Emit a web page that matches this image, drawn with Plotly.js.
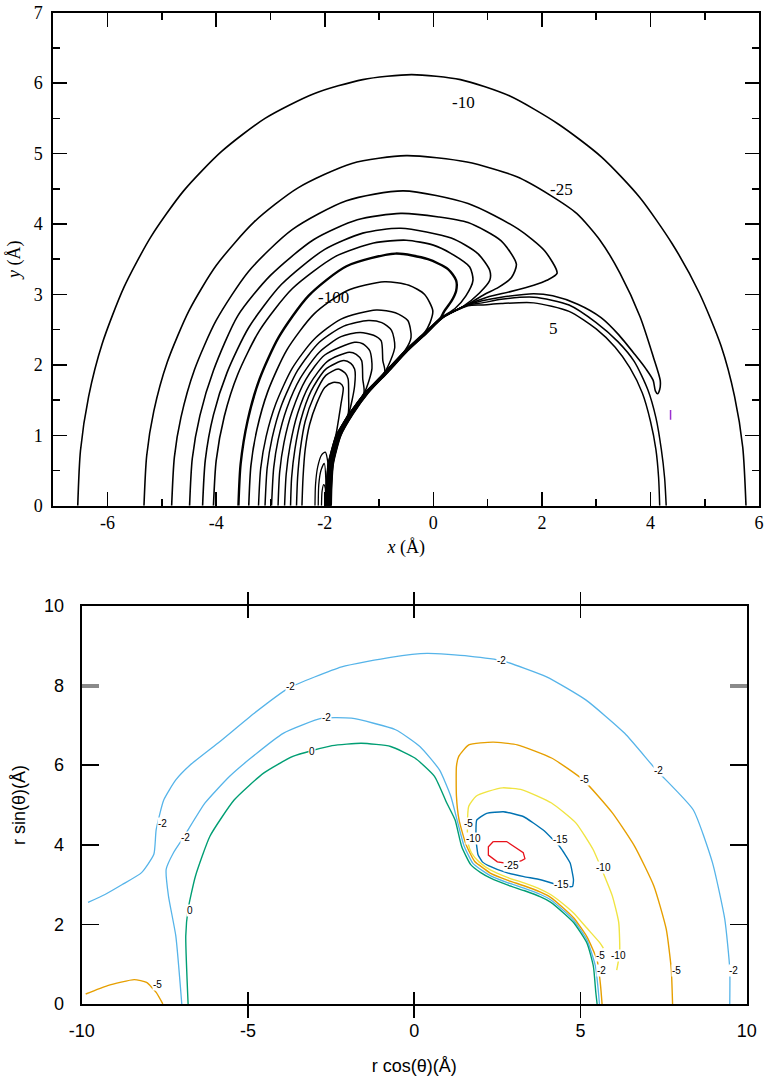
<!DOCTYPE html>
<html>
<head>
<meta charset="utf-8">
<script src="https://cdn.plot.ly/plotly-3.0.1.min.js"></script>
<style>html,body{margin:0;padding:0;background:#fff;}#chart{width:765px;height:1085px;}</style>
</head>
<body>
<div id="chart"></div>
<script>
// ---------------- TOP PANEL: contour lines (x, y in Å) ----------------
const topL1_x = [-6.55,-6.5,-6.35,-6.1,-5.7,-5.2,-4.6,-3.9,-3.1,-2.2,-1.3,-0.4,0.5,1.4,2.3,3.1,3.8,4.4,4.9,5.3,5.55,5.7,5.76];
const topL1_y = [0,0.78,1.55,2.3,3.1,3.82,4.47,5.03,5.5,5.85,6.05,6.12,6.05,5.82,5.42,4.95,4.38,3.72,3.02,2.27,1.55,0.83,0];

const topL2_x = [-5.33,-5.28,-5.15,-4.9,-4.5,-4.0,-3.3,-2.5,-1.5,-0.5,0.62,1.54,2.15,2.64,3.07,3.44,3.81,4.05,4.18,4.17,4.13,4.09,4.05,3.92,3.71,3.4,3.09,2.66,2.2,1.85,1.25,0.9,0.628,0.168,-0.132,-0.482,-0.842,-1.212,-1.492,-1.712,-1.852,-1.882,-1.892];
const topL2_y = [0,0.71,1.34,2.04,2.77,3.41,4.03,4.51,4.86,4.97,4.88,4.67,4.41,4.15,3.77,3.3,2.68,2.12,1.78,1.65,1.59,1.63,1.78,1.94,2.15,2.44,2.67,2.86,2.98,3.01,2.96,2.91,2.85,2.67,2.45,2.2,1.9,1.6,1.3,1.0,0.6,0.3,0];

const top5a_x = [-1.886,-1.876,-1.846,-1.706,-1.486,-1.206,-0.836,-0.476,-0.126,0.174,0.634,0.9,1.25,1.85,2.5,3.0,3.4,3.7,3.95,4.1,4.2,4.26,4.29];
const top5a_y = [0,0.3,0.6,1.0,1.3,1.6,1.9,2.2,2.45,2.67,2.85,2.88,2.93,2.96,2.85,2.6,2.33,2.05,1.65,1.25,0.8,0.4,0];
const top5b_x = [-1.88,-1.87,-1.84,-1.70,-1.48,-1.20,-0.83,-0.47,-0.12,0.18,0.64,0.9,1.25,1.85,2.5,3.0,3.35,3.62,3.85,4.0,4.1,4.15,4.17];
const top5b_y = [0,0.3,0.6,1.0,1.3,1.6,1.9,2.2,2.45,2.67,2.84,2.85,2.87,2.88,2.76,2.51,2.25,1.96,1.6,1.2,0.8,0.4,0];

const topL3_x = [-4.82,-4.77,-4.65,-4.4,-4.0,-3.4,-2.6,-1.6,-0.55,0.64,1.56,2.05,2.28,2.09,1.85,1.42,0.99,0.622,0.162,-0.138,-0.488,-0.848,-1.218,-1.498,-1.718,-1.858,-1.888,-1.898];
const topL3_y = [0,0.69,1.25,1.93,2.63,3.33,3.92,4.33,4.47,4.29,3.93,3.62,3.3,3.2,3.13,3.04,2.96,2.85,2.67,2.45,2.2,1.9,1.6,1.3,1.0,0.6,0.3,0];

const topL4_x = [-4.49,-4.44,-4.3,-4.05,-3.6,-3.0,-2.2,-1.4,-0.6,0.1,0.64,1.25,1.53,1.44,1.2,0.94,0.616,0.156,-0.144,-0.494,-0.854,-1.224,-1.504,-1.724,-1.864,-1.894,-1.904];
const topL4_y = [0,0.67,1.28,1.92,2.7,3.27,3.78,4.06,4.15,4.1,4.02,3.76,3.43,3.24,3.1,3.0,2.85,2.67,2.45,2.2,1.9,1.6,1.3,1.0,0.6,0.3,0];

const topL5_x = [-4.25,-4.2,-4.05,-3.8,-3.4,-2.8,-2.0,-1.3,-0.6,0.33,0.82,1.04,1.04,0.85,0.55,0.15,-0.15,-0.5,-0.86,-1.23,-1.51,-1.73,-1.87,-1.9,-1.91];
const topL5_y = [0,0.65,1.29,1.89,2.53,3.14,3.64,3.87,3.94,3.8,3.58,3.34,3.2,3.02,2.83,2.67,2.45,2.2,1.9,1.6,1.3,1.0,0.6,0.3,0];

const topL6_x = [-4.05,-4.0,-3.85,-3.6,-3.2,-2.6,-1.8,-1.1,-0.5,0.0,0.33,0.67,0.73,0.6,0.4,0.144,-0.156,-0.506,-0.866,-1.236,-1.516,-1.736,-1.876,-1.906,-1.916];
const topL6_y = [0,0.64,1.27,1.87,2.49,3.08,3.54,3.73,3.77,3.7,3.58,3.39,3.2,2.98,2.8,2.67,2.45,2.2,1.9,1.6,1.3,1.0,0.6,0.3,0];

const topL7_x = [-3.59,-3.55,-3.42,-3.2,-2.85,-2.3,-1.6,-0.7,-0.1,0.27,0.42,0.42,0.33,0.2,0.138,-0.162,-0.512,-0.872,-1.242,-1.522,-1.742,-1.882,-1.912,-1.922];
const topL7_y = [0,0.59,1.21,1.8,2.39,2.98,3.4,3.58,3.5,3.36,3.2,3.05,2.9,2.76,2.67,2.45,2.2,1.9,1.6,1.3,1.0,0.6,0.3,0];

const topL8_x = [-3.4,-3.36,-3.25,-3.05,-2.7,-2.2,-1.6,-0.9,-0.45,-0.16,-0.01,-0.06,-0.168,-0.518,-0.878,-1.248,-1.528,-1.748,-1.888,-1.918,-1.928];
const topL8_y = [0,0.57,1.08,1.62,2.21,2.72,3.05,3.18,3.13,3.0,2.77,2.6,2.45,2.2,1.9,1.6,1.3,1.0,0.6,0.3,0];

const topL9_x = [-3.22,-3.18,-3.08,-2.9,-2.6,-2.2,-1.7,-1.05,-0.7,-0.47,-0.41,-0.524,-0.884,-1.254,-1.534,-1.754,-1.894,-1.924,-1.934];
const topL9_y = [0,0.53,0.98,1.45,1.95,2.36,2.65,2.78,2.74,2.63,2.39,2.2,1.9,1.6,1.3,1.0,0.6,0.3,0];

const topL10_x = [-3.1,-3.06,-2.97,-2.8,-2.5,-2.1,-1.65,-1.2,-0.95,-0.77,-0.71,-0.89,-1.26,-1.54,-1.76,-1.9,-1.93,-1.94];
const topL10_y = [0,0.54,0.96,1.42,1.92,2.32,2.55,2.63,2.6,2.49,2.25,1.9,1.6,1.3,1.0,0.6,0.3,0];

const topL11_x = [-2.98,-2.94,-2.86,-2.7,-2.45,-2.1,-1.7,-1.35,-1.1,-0.96,-0.93,-0.896,-1.266,-1.546,-1.766,-1.906,-1.936,-1.946];
const topL11_y = [0,0.54,0.93,1.38,1.81,2.18,2.4,2.46,2.42,2.34,2.06,1.9,1.6,1.3,1.0,0.6,0.3,0];

const topL12_x = [-2.86,-2.83,-2.75,-2.6,-2.35,-2.0,-1.45,-1.3,-1.17,-1.13,-1.272,-1.552,-1.772,-1.912,-1.942,-1.952];
const topL12_y = [0,0.48,0.9,1.34,1.79,2.14,2.32,2.3,2.2,1.95,1.6,1.3,1.0,0.6,0.3,0];

const topL13_x = [-2.74,-2.71,-2.64,-2.5,-2.28,-1.95,-1.55,-1.42,-1.32,-1.3,-1.278,-1.558,-1.778,-1.918,-1.948,-1.958];
const topL13_y = [0,0.45,0.85,1.31,1.72,2.05,2.18,2.15,2.06,1.8,1.6,1.3,1.0,0.6,0.3,0];

const topL14_x = [-2.63,-2.61,-2.55,-2.44,-2.25,-1.98,-1.65,-1.52,-1.45,-1.45,-1.564,-1.784,-1.924,-1.954,-1.964];
const topL14_y = [0,0.4,0.8,1.22,1.63,1.94,2.06,2.02,1.94,1.7,1.3,1.0,0.6,0.3,0];

const topL15_x = [-2.52,-2.5,-2.45,-2.36,-2.2,-1.98,-1.75,-1.62,-1.57,-1.56,-1.57,-1.79,-1.93,-1.96,-1.97];
const topL15_y = [0,0.4,0.8,1.2,1.55,1.85,1.94,1.88,1.8,1.55,1.3,1.0,0.6,0.3,0];

const topL16_x = [-2.42,-2.4,-2.36,-2.28,-2.15,-2.0,-1.85,-1.72,-1.66,-1.7,-1.73,-1.796,-1.936,-1.966,-1.976];
const topL16_y = [0,0.4,0.8,1.15,1.45,1.68,1.75,1.74,1.68,1.45,1.3,1.0,0.6,0.3,0];

const topL17_x = [-2.18,-2.17,-2.13,-2.06,-1.99,-1.942,-1.972,-1.982];
const topL17_y = [0,0.3,0.55,0.72,0.76,0.6,0.3,0];
const topL18_x = [-2.12,-2.11,-2.07,-2.01,-1.978,-1.988];
const topL18_y = [0,0.3,0.5,0.6,0.3,0];
const topL19_x = [-2.06,-2.05,-2.02,-1.99,-1.994];
const topL19_y = [0,0.2,0.3,0.25,0];

const topSpeck_x = [4.37,4.37];
const topSpeck_y = [1.22,1.36];

const topLabelText = ["-10","-25","-100","5"];
const topLabelX = [0.56,2.37,-1.84,2.21];
const topLabelY = [5.73,4.49,2.95,2.52];

const topXTickVals = [-6,-4,-2,0,2,4,6];
const topXTickText = ["-6","-4","-2","0","2","4","6"];
const topXMinorVals = [-7,-5,-3,-1,1,3,5];
const topYTickVals = [0,1,2,3,4,5,6,7];
const topYMinorVals = [0.5,1.5,2.5,3.5,4.5,5.5,6.5];

// ---------------- BOTTOM PANEL: contour lines (r cos θ, r sin θ) ----------------
const botSkyOuter_x = [-9.81,-9.3,-8.78,-8.2,-7.83,-7.76,-7.53,-7.17,-6.73,-5.85,-4.82,-3.79,-2.18,-0.71,0.39,1.64,2.66,3.98,5.16,6.33,7.28,8.39,8.97,9.34,9.49,9.49];
const botSkyOuter_y = [2.55,2.75,3.0,3.3,3.76,4.38,5.13,5.63,6.01,6.59,7.3,7.93,8.47,8.71,8.81,8.74,8.62,8.22,7.64,6.8,5.88,4.88,3.55,2.13,0.88,0];

const botSkyInner_x = [-6.99,-7.17,-7.39,-7.46,-7.24,-6.95,-6.29,-5.55,-4.97,-3.94,-2.77,-1.89,-0.56,0.17,0.76,1.1,1.29,1.5,1.76,2.05,2.3,2.8,3.3,3.8,4.1,4.5,4.8,5.2,5.45,5.54,5.57];
const botSkyInner_y = [0,1.71,2.71,3.38,3.8,4.17,5.05,5.72,6.14,6.8,7.18,7.18,6.89,6.47,5.88,5.22,4.62,3.97,3.54,3.35,3.22,3.05,2.91,2.75,2.62,2.34,2.1,1.6,0.95,0.3,0];

const botGreen_x = [-6.8,-6.87,-6.8,-6.58,-6.14,-5.41,-4.53,-3.65,-2.47,-1.59,-0.71,0.02,0.61,0.98,1.23,1.43,1.7,2.0,2.3,2.8,3.3,3.8,4.1,4.5,4.8,5.2,5.39,5.46,5.5];
const botGreen_y = [0,1.71,2.38,3.21,4.22,5.13,5.8,6.22,6.49,6.55,6.47,6.18,5.72,5.05,4.62,3.95,3.5,3.3,3.16,2.99,2.85,2.69,2.56,2.28,2.04,1.52,0.94,0.3,0];

const botOrange_x = [7.77,7.73,7.58,7.21,6.63,5.96,5.08,4.13,3.1,2.37,1.64,1.34,1.27,1.27,1.35,1.56,1.82,2.1,2.3,2.8,3.3,3.8,4.1,4.5,4.8,5.2,5.5,5.6,5.65];
const botOrange_y = [0,0.88,1.88,2.96,3.96,4.8,5.63,6.18,6.51,6.58,6.51,6.22,5.97,5.22,4.62,4.0,3.58,3.4,3.28,3.11,2.97,2.81,2.68,2.4,2.16,1.68,1.1,0.5,0];

const botOrangeLeft_x = [-9.88,-9.22,-8.42,-8.05,-7.76,-7.56];
const botOrangeLeft_y = [0.25,0.46,0.61,0.54,0.29,0];

const botYellow_x = [5.69,5.59,5.2,4.8,4.5,4.1,3.8,3.3,2.8,2.3,1.95,1.72,1.62,1.6,1.64,1.86,2.22,2.66,3.25,4.13,4.86,5.38,5.6,5.96,6.15,6.18,6.09];
const botYellow_y = [1.4,1.53,1.9,2.28,2.5,2.75,2.88,3.04,3.18,3.36,3.57,3.8,4.05,4.5,4.97,5.22,5.34,5.43,5.38,5.05,4.55,3.88,3.46,2.71,2.05,1.29,0.85];

const botBlue_x = [1.88,2.18,2.68,3.28,3.88,4.38,4.69,4.79,4.76,4.43,3.8,3.3,2.78,2.25,2.05,1.92,1.86,1.88];
const botBlue_y = [4.62,4.79,4.83,4.71,4.37,3.95,3.54,3.12,2.95,2.97,3.12,3.2,3.3,3.47,3.57,3.75,4.12,4.62];

const botRed_x = [2.38,2.78,3.28,3.33,3.23,2.9,2.5,2.23,2.23,2.38];
const botRed_y = [4.08,4.08,3.8,3.65,3.6,3.52,3.57,3.74,3.95,4.08];

const botLabelText = ["-2","-2","-2","0","-2","-2","0","-5","-2","-5","-5","-10","-15","-25","-15","-10","-5","-10","-2","-5","-2"];
const botLabelX = [2.63,-3.72,-2.65,-3.06,-7.56,-6.87,-6.73,-7.73,7.36,5.11,1.64,1.78,4.39,2.93,4.43,5.69,5.59,6.14,5.64,7.9,9.61];
const botLabelY = [8.64,7.97,7.2,6.34,4.53,4.17,2.36,0.48,5.86,5.63,4.54,4.16,4.12,3.49,2.99,3.43,1.23,1.23,0.84,0.84,0.84];

const botXTickVals = [-10,-5,0,5,10];
const botXTickText = ["-10","-5","0","5","10"];
const botYTickVals = [0,2,4,6,8,10];
const greyTickVals = [8];

// ---------------- build traces ----------------
function line(x, y, color, width, xa, ya, smooth) {
  const ln = {color:color, width:width};
  if (smooth) { ln.shape = 'spline'; ln.smoothing = smooth; } else { ln.shape = 'linear'; }
  return {type:'scatter', mode:'lines', x:x, y:y, xaxis:xa, yaxis:ya,
          line:ln, hoverinfo:'skip', showlegend:false};
}
const traces = [];
const topSet = [
  [topL1_x,topL1_y,1.6],[topL2_x,topL2_y,1.6],[top5a_x,top5a_y,1.5],[top5b_x,top5b_y,1.5],
  [topL3_x,topL3_y,1.6],[topL4_x,topL4_y,1.6],[topL5_x,topL5_y,1.6],[topL6_x,topL6_y,1.6],
  [topL7_x,topL7_y,2.4],[topL8_x,topL8_y,1.6],[topL9_x,topL9_y,1.5],[topL10_x,topL10_y,1.5],
  [topL11_x,topL11_y,1.5],[topL12_x,topL12_y,1.5],[topL13_x,topL13_y,1.5],[topL14_x,topL14_y,1.5],
  [topL15_x,topL15_y,1.5],[topL16_x,topL16_y,1.5],[topL17_x,topL17_y,1.3],[topL18_x,topL18_y,1.3],[topL19_x,topL19_y,1.3]
];
topSet.forEach(s => traces.push(line(s[0], s[1], '#000', s[2], 'x', 'y', 0.7)));
traces.push(line(topSpeck_x, topSpeck_y, '#9b30d0', 1.5, 'x', 'y', 0));

const sky='#56B4E9', green='#009E73', orange='#E69F00', yellow='#F0E442', blue='#0072B2', red='#E8121B';
traces.push(line(botSkyOuter_x, botSkyOuter_y, sky, 1.3, 'x2', 'y2', 0.5));
traces.push(line(botSkyInner_x, botSkyInner_y, sky, 1.3, 'x2', 'y2', 0.5));
traces.push(line(botOrange_x, botOrange_y, orange, 1.4, 'x2', 'y2', 0.5));
traces.push(line(botOrangeLeft_x, botOrangeLeft_y, orange, 1.4, 'x2', 'y2', 0.5));
traces.push(line(botYellow_x, botYellow_y, yellow, 1.4, 'x2', 'y2', 0.5));
traces.push(line(botGreen_x, botGreen_y, green, 1.4, 'x2', 'y2', 0.5));
traces.push(line(botBlue_x, botBlue_y, blue, 1.4, 'x2', 'y2', 0.4));
traces.push(line(botRed_x, botRed_y, red, 1.3, 'x2', 'y2', 0));
// empty trace so the overlay axis carrying the grey y=8 tick is drawn
traces.push({type:'scatter', mode:'lines', x:[], y:[], xaxis:'x2', yaxis:'y3', showlegend:false, hoverinfo:'skip'});

// ---------------- annotations (contour labels) ----------------
const annotations = [];
topLabelText.forEach((t,i) => annotations.push({
  xref:'x', yref:'y', x:topLabelX[i], y:topLabelY[i], text:t, showarrow:false,
  font:{family:'Liberation Serif, serif', size:17, color:'#000'}
}));
botLabelText.forEach((t,i) => annotations.push({
  xref:'x2', yref:'y2', x:botLabelX[i], y:botLabelY[i], text:t, showarrow:false,
  bgcolor:'#fff', borderpad:0,
  font:{family:'Liberation Sans, Arial, sans-serif', size:10, color:'#000'}
}));

const serif = {family:'Liberation Serif, serif', size:18, color:'#000'};
const sans = {family:'Liberation Sans, Arial, sans-serif', size:18, color:'#000'};
const axBase = {showgrid:false, zeroline:false, showline:true, linecolor:'#000', linewidth:2,
                ticks:'inside', tickcolor:'#000', tickwidth:1.5, mirror:'allticks'};

const layout = {
  width:765, height:1085, margin:{l:0,r:0,t:0,b:0},
  paper_bgcolor:'#fff', plot_bgcolor:'#fff', showlegend:false,
  xaxis: Object.assign({}, axBase, {
    domain:[0.0697,0.9922], anchor:'y', range:[-7,6],
    tickmode:'array', tickvals:topXTickVals, ticktext:topXTickText, ticklen:14,
    minor:{tickmode:'array', tickvals:topXMinorVals, ticks:'inside', ticklen:7, tickcolor:'#000', tickwidth:1.5, showgrid:false},
    tickfont:serif, ticklabelstandoff:0,
    title:{text:'<i>x</i> (Å)', font:serif, standoff:8}
  }),
  yaxis: Object.assign({}, axBase, {
    domain:[0.5339,0.9883], anchor:'x', range:[0,7],
    tickmode:'array', tickvals:topYTickVals, ticklen:14,
    minor:{tickmode:'array', tickvals:topYMinorVals, ticks:'inside', ticklen:7, tickcolor:'#000', tickwidth:1.5, showgrid:false},
    tickfont:serif, ticklabelstandoff:5,
    title:{text:'<i>y</i> (Å)', font:serif, standoff:8}
  }),
  xaxis2: Object.assign({}, axBase, {
    domain:[0.1068,0.9761], anchor:'y2', range:[-10,10],
    tickmode:'array', tickvals:botXTickVals, ticktext:botXTickText, ticklen:12,
    tickfont:sans, ticklabelstandoff:9,
    title:{text:'r cos(θ)(Å)', font:sans, standoff:20}
  }),
  yaxis2: Object.assign({}, axBase, {
    domain:[0.0747,0.4415], anchor:'x2', range:[0,10],
    tickmode:'array', tickvals:botYTickVals, ticklen:17,
    tickfont:sans, ticklabelstandoff:12,
    title:{text:'r sin(θ)(Å)', font:sans, standoff:14}
  }),
  yaxis3: {
    overlaying:'y2', anchor:'x2', range:[0,10], tickmode:'array', tickvals:greyTickVals,
    ticks:'inside', ticklen:17, tickwidth:4, tickcolor:'#8a8a8a', mirror:'ticks',
    showline:false, showgrid:false, zeroline:false, showticklabels:false
  },
  annotations: annotations
};

Plotly.newPlot('chart', traces, layout, {staticPlot:true, displayModeBar:false});
</script>
</body>
</html>
